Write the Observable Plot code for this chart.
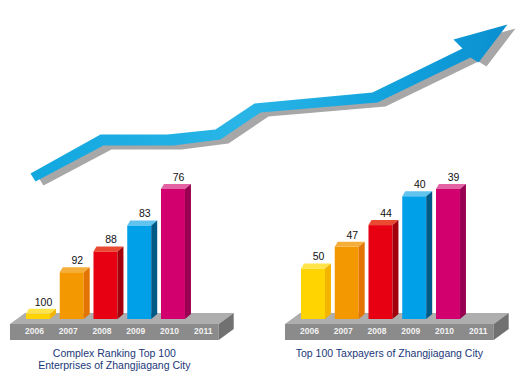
<!DOCTYPE html>
<html><head><meta charset="utf-8">
<script src="https://cdn.jsdelivr.net/npm/d3@7"></script>
<script src="https://cdn.jsdelivr.net/npm/@observablehq/plot@0.6"></script>
<style>
html,body{margin:0;padding:0;background:#fff;}
#stage{position:relative;width:527px;height:382px;overflow:hidden;font-family:"Liberation Sans",Arial,sans-serif;}
#stage svg{position:absolute;left:0;top:0;background:transparent !important;}
</style></head><body><div id="stage"></div>
<script>
// ---- data ----
const years = ["2006","2007","2008","2009","2010","2011"];
const barYears = ["2006","2007","2008","2009","2010"];
const enterpriseRank = [100, 92, 88, 83, 76];
const taxpayerRank = [50, 47, 44, 40, 39];
const captionLeft = ["Complex Ranking Top 100", "Enterprises of Zhangjiagang City"];
const captionRight = ["Top 100 Taxpayers of Zhangjiagang City"];
// colours per year
const frontColors = ["#FFD400","#F39800","#E60012","#00A0E9","#D2006F"];
const topColors   = ["#FFE54A","#F6AE3A","#EA4A32","#62C3EF","#E262A3"];
const sideColors  = ["#F3B500","#E47400","#A3000E","#005A88","#990052"];
// decorative arrow outline (shape vertices)
const arrowOutline = [[30,173],[100,134],[167,134],[215,129],[254,103],[372,92],[462,48],[453,39],[507,24],[478,62],[470,57],[377,102],[260,112],[220,139],[173,145],[103,145],[35,181]];

const stage = document.getElementById("stage");
const W = 527, H = 382;
const FONT = '"Liberation Sans", Arial, sans-serif';

// ---- arrow ----
const arrowDefs = () => {
  const defs = d3.create("svg:defs");
  const g = defs.append("linearGradient").attr("id","arrowGrad").attr("x1","0").attr("x2","1").attr("y1","0").attr("y2","0");
  g.append("stop").attr("offset","0%").attr("stop-color","#11A7DF");
  g.append("stop").attr("offset","45%").attr("stop-color","#2AB5E7");
  g.append("stop").attr("offset","75%").attr("stop-color","#12A3DD");
  g.append("stop").attr("offset","100%").attr("stop-color","#0A8FD0");
  return defs.node();
};
stage.append(Plot.plot({
  width: W, height: H, margin: 0,
  style: {background: "transparent"},
  x: {domain: [0, W], range: [0, W], axis: null},
  y: {domain: [0, H], range: [0, H], axis: null},
  marks: [
    arrowDefs,
    Plot.line(arrowOutline, {x: d => d[0], y: d => d[1], dx: 8, dy: 4, curve: "linear-closed", fill: "#A7A7A7", stroke: "none"}),
    Plot.line(arrowOutline, {x: d => d[0], y: d => d[1], curve: "linear-closed", fill: "url(#arrowGrad)", stroke: "none"})
  ]
}));

// ---- bar charts ----
function barChart(ranks, base, topRank, marginLeft, marginRight, caption) {
  const data = barYears.map((year, i) => ({year, rank: ranks[i], i}));
  const bwOf = x => x.bandwidth ? x.bandwidth() : (x(years[1]) - x(years[0])) * 0.71;
  const platform = (index, scales) => {
    const x = scales.x, y = scales.y, bw = bwOf(x);
    const yb = y(base);
    const xL = x(years[0]) - 16, xR = x(years[years.length - 1]) + bw;
    const g = d3.create("svg:g");
    const poly = (pts, fill) => g.append("polygon").attr("points", pts.map(p => p.join(",")).join(" ")).attr("fill", fill);
    poly([[xL, yb + 5], [xL + 15, yb - 6], [xR + 15, yb - 6], [xR, yb + 5]], "#AEAEAE");
    poly([[xL, yb + 5], [xR, yb + 5], [xR, yb + 21], [xL, yb + 21]], "#8B8B8B");
    poly([[xR, yb + 5], [xR + 15, yb - 6], [xR + 15, yb + 10], [xR, yb + 21]], "#717171");
    caption.forEach((line, k) => {
      g.append("text").attr("x", (xL + xR) / 2).attr("y", yb + 34 + k * 11.6)
        .attr("text-anchor", "middle").attr("dominant-baseline", "central")
        .attr("font-size", 10.5).attr("fill", "#1A377A").attr("font-family", FONT).text(line);
    });
    return g.node();
  };
  const faces = (index, scales) => {
    const x = scales.x, y = scales.y, bw = bwOf(x);
    const yb = y(base);
    const g = d3.create("svg:g");
    const poly = (pts, fill) => g.append("polygon").attr("points", pts.map(p => p.join(",")).join(" ")).attr("fill", fill);
    data.forEach(d => {
      const xl = x(d.year), xr = xl + bw, yt = y(d.rank);
      poly([[xl, yt], [xl + 3, yt - 5], [xr + 6, yt - 5], [xr, yt]], topColors[d.i]);
      poly([[xr, yt], [xr + 6, yt - 5], [xr + 6, yb - 5], [xr, yb]], sideColors[d.i]);
    });
    return g.node();
  };
  return Plot.plot({
    width: W, height: H,
    marginLeft, marginRight, marginTop: 189, marginBottom: 63,
    style: {background: "transparent", fontFamily: FONT},
    x: {domain: years, padding: 0.29, round: false, axis: null},
    y: {domain: [base, topRank], axis: null},
    color: {domain: barYears, range: frontColors},
    marks: [
      platform,
      Plot.barY(data, {x: "year", y1: () => base, y2: "rank", fill: "year"}),
      faces,
      Plot.text(data, {x: "year", y: "rank", text: d => String(d.rank), dx: 5, dy: -12, fontSize: 10.5, fill: "#111"}),
      Plot.text(years, {x: d => d, frameAnchor: "bottom", dx: -4, dy: 14, fontSize: 8.5, fontWeight: "bold", fill: "#F2F2F2"})
    ]
  });
}

stage.append(barChart(enterpriseRank, 101, 76, 16.2, W - 228.5, captionLeft));
stage.append(barChart(taxpayerRank, 57, 39, 291.2, W - 503.5, captionRight));
</script></body></html>
